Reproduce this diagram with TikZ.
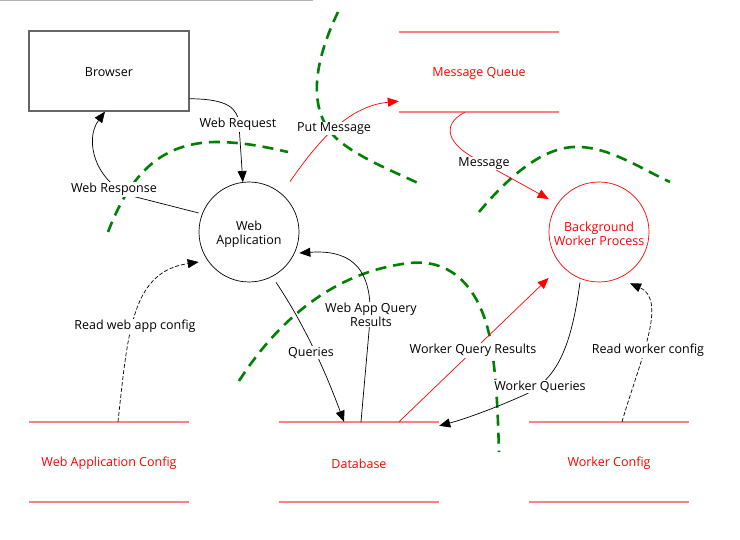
\documentclass[tikz,border=0pt]{standalone}
\usepackage{fontspec}
\setmainfont{Open Sans}
\usetikzlibrary{arrows.meta,calc}
\definecolor{storeline}{HTML}{FF8080}
\definecolor{tbgreen}{HTML}{008000}
\begin{document}
\begin{tikzpicture}[x=1pt,y=-1pt,
  every node/.style={font=\fontsize{12.5}{14}\selectfont},
  proc/.style={draw=black, line width=0.7pt, circle, minimum size=100pt, inner sep=0pt},
  rproc/.style={proc, draw=red},
  ptext/.style={align=center, inner sep=0pt},
  ext/.style={draw=black!60, line width=1.2pt, rectangle, minimum width=160pt, minimum height=80pt},
  storebox/.style={rectangle, minimum width=160pt, minimum height=80pt},
  storetext/.style={text=red, inner sep=0pt},
  flow/.style={line width=0.7pt, -{Triangle[length=11pt,width=9pt]}},
  rflow/.style={flow, draw=red, -{Triangle[length=11pt,width=9pt,fill=red]}},
  dflow/.style={flow, dash pattern=on 4pt off 2pt},
  lbl/.style={fill=white, inner sep=1pt, align=center, yshift=-1.5pt},
  boundary/.style={draw=tbgreen, line width=2.6pt, dash pattern=on 11pt off 7pt},
]
\useasboundingbox (0,0) rectangle (740,540);
\fill[gray!60] (0,0) rectangle (313,1.5);

% nodes
\node[ext] (browser) at (109,71) {};
\node (browsertext) at (109,72.5) {Browser};
\node[proc] (wa) at (249,232) {};
\node[ptext] (watext) at (249,234) {Web\\Application};
\node[rproc] (bw) at (599,232) {};
\node[ptext, text=red] (bwtext) at (599,234) {Background\\Worker Process};
\node[storebox] (mq) at (479,72) {};
\node[storetext] (mqtext) at (479,73.5) {Message Queue};
\node[storebox] (wac) at (109,462) {};
\node[storetext] (wactext) at (109,463.5) {Web Application Config};
\node[storebox] (db) at (359,462) {};
\node[storetext] (dbtext) at (359,463.5) {Database};
\node[storebox] (wc) at (609,462) {};
\node[storetext] (wctext) at (609,463.5) {Worker Config};
\foreach \s in {mq,wac,db,wc}{
  \draw[storeline, line width=1.8pt] (\s.north west) -- (\s.north east);
  \draw[storeline, line width=1.8pt] (\s.south west) -- (\s.south east);
}

% trust boundaries
\draw[boundary] (108,232) .. controls (130,175) and (160,143) .. (215,142) .. controls (245,142) and (270,148) .. (288,152);
\draw[boundary] (338,12) .. controls (315,60) and (305,110) .. (338,140) .. controls (360,158) and (390,170) .. (418,183);
\draw[boundary] (479,212) .. controls (510,175) and (545,145) .. (580,147) .. controls (610,148) and (640,168) .. (670,182);
\draw[boundary] (239,381) .. controls (275,325) and (330,272) .. (410,263) .. controls (460,258) and (485,300) .. (492,350) .. controls (497,385) and (498,420) .. (499,452);

% flows
\draw[flow] (browser.-19.3) .. controls (228,99) and (238,108) .. (239,125) -- (wa.97);
\draw[flow] ($(wa.west)+(0,-19)$) -- (132,196) .. controls (95,182) and (84,140) .. ($(browser.south)+(-4,0)$);
\draw[rflow] ($(wa.north)+(41,0)$) .. controls (320,138) and (350,106) .. ($(mq.south west)+(0,-11)$);
\draw[rflow] ($(mq.south)+(-14,0)$) .. controls (440,125) and (448,145) .. (478,160) -- ($(bw.west)+(0,-33)$);
\draw[dflow] ($(wac.north)+(9,0)$) .. controls (128,330) and (132,272) .. ($(wa.west)+(0,30)$);
\draw[flow] ($(wa.south)+(27,0)$) .. controls (300,318) and (322,362) .. ($(db.north)+(-15,0)$);
\draw[flow] ($(db.north)+(2,0)$) -- (370,320) .. controls (373,262) and (345,250) .. ($(wa.east)+(0,21)$);
\draw[rflow] ($(db.north)+(40,0)$) -- ($(bw.west)+(0,46)$);
\draw[flow] ($(bw.south)+(-19,0)$) .. controls (572,340) and (560,380) .. (522,396) .. controls (495,408) and (465,419) .. ($(db.north east)+(0,4)$);
\draw[dflow] ($(wc.north)+(13,0)$) .. controls (640,360) and (668,300) .. ($(bw.south)+(31,1)$);

% labels
\node[lbl] (lreq) at (238,123) {Web Request};
\node[lbl] (lresp) at (114,188) {Web Response};
\node[lbl] (lput) at (334,127) {Put Message};
\node[lbl] (lmsg) at (484,162) {Message};
\node[lbl] (lrwac) at (135,325) {Read web app config};
\node[lbl] (lq) at (311,351) {Queries};
\node[lbl] (lwaqr) at (371,313) {Web App Query\\Results};
\node[lbl] (lwqr) at (473,349) {Worker Query Results};
\node[lbl] (lwq) at (540,385) {Worker Queries};
\node[lbl] (lrwc) at (648,349) {Read worker config};
\end{tikzpicture}
\end{document}
